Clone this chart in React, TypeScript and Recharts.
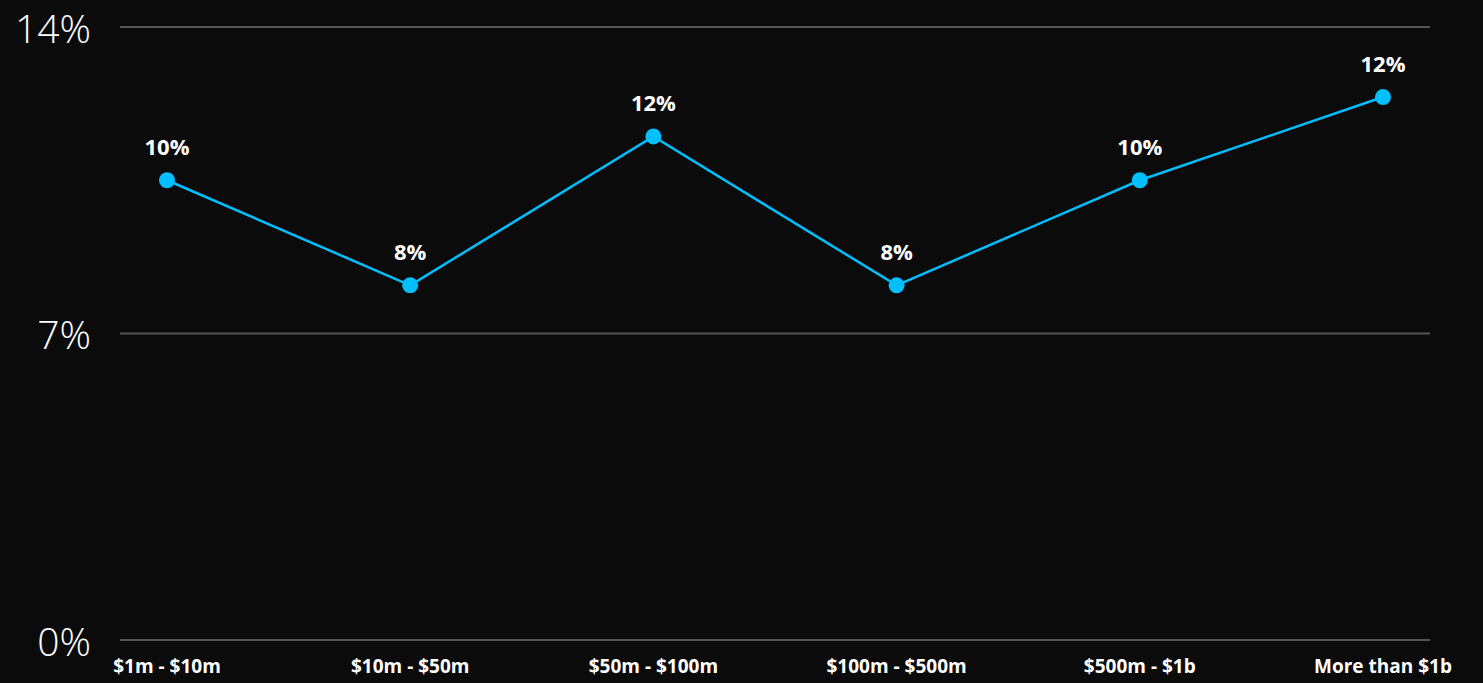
import { CartesianGrid, LabelList, Line, LineChart, XAxis, YAxis } from 'recharts';

const categories = ['$1m - $10m', '$10m - $50m', '$50m - $100m', '$100m - $500m', '$500m - $1b', 'More than $1b'];
const shares = [10.5, 8.1, 11.5, 8.1, 10.5, 12.4];
const shareLabels = ['10%', '8%', '12%', '8%', '10%', '12%'];
const yTicks = [0, 7, 14];

const data = categories.map((name, i) => ({ name, value: shares[i], label: shareLabels[i] }));

const YTick = (props: any) => {
	const { y, payload } = props;
	return (
		<text x={91} y={y} textAnchor='end' dominantBaseline='central' fill='#fff' fontSize={39} fontWeight={300} fontFamily='"Open Sans", sans-serif'>
			{payload.value}%
		</text>
	);
};

const XTick = (props: any) => {
	const { x, y, payload } = props;
	return (
		<text x={x} y={y + 18} textAnchor='middle' dominantBaseline='central' fill='#fff' fontSize={19} fontWeight={700} fontFamily='"Open Sans", sans-serif'>
			{payload.value}
		</text>
	);
};

export default function App() {
	return (
		<div style={{ position: 'absolute', left: 0, top: 0, width: 1483, height: 683, background: '#0b0b0b' }}>
			<LineChart width={1483} height={683} data={data} margin={{ top: 27, right: 53, bottom: 0, left: 0 }}>
				<CartesianGrid horizontal vertical={false} stroke='#555' strokeWidth={2} />
				<XAxis dataKey='name' axisLine={false} tickLine={false} height={43} padding={{ left: 47, right: 47 }} tick={<XTick />} interval={0} />
				<YAxis domain={[0, 14]} ticks={yTicks} axisLine={false} tickLine={false} width={120} tick={<YTick />} />
				<Line dataKey='value' stroke='#00bfff' strokeWidth={2.5} dot={{ r: 8, fill: '#00bfff', stroke: 'none' }} isAnimationActive={false}>
					<LabelList dataKey='label' position='top' offset={25} fill='#fff' fontSize={22} fontWeight={700} fontFamily='"Open Sans", sans-serif' />
				</Line>
			</LineChart>
		</div>
	);
}
